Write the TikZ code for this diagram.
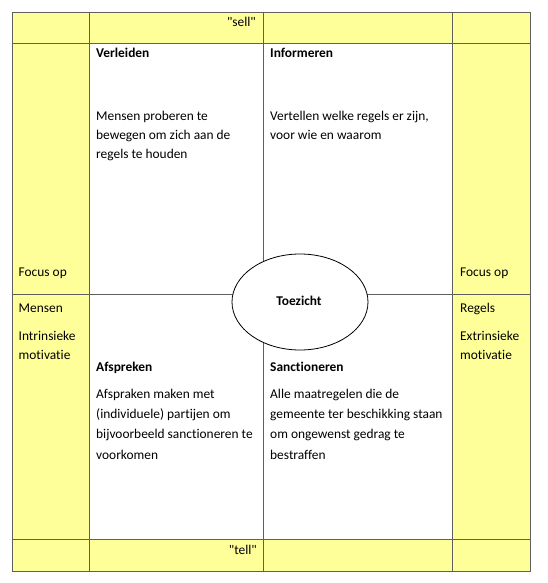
\documentclass[tikz,border=0pt]{standalone}
\usepackage{fontspec}
\setmainfont{Carlito}[Ligatures={TeXOff,NoCommon}]
\usetikzlibrary{shapes.geometric}
\definecolor{cellyellow}{HTML}{FFFF99}
\definecolor{gridline}{HTML}{5F5F5F}
\newcommand{\lines}[1]{\begin{tabular}[t]{@{}l@{}}#1\end{tabular}}
\begin{document}
\begin{tikzpicture}[x=1pt,y=-1pt,
  grid/.style={draw=gridline,line width=0.8pt},
  txt/.style={anchor=base west,inner sep=0pt,font=\fontsize{13.4}{18.8}\selectfont},
  wide/.style={anchor=base west,inner sep=0pt,font=\fontsize{13.4}{20.2}\selectfont},
  ttl/.style={txt,font=\fontsize{13.4}{18.8}\selectfont\bfseries},
  oval/.style={draw=black,line width=0.8pt,fill=white,ellipse,minimum width=136pt,minimum height=96pt,inner sep=0pt}]
\useasboundingbox (0,0) rectangle (548,583);
% yellow frame cells
\fill[cellyellow] (12,12.3) rectangle (530,43.5);
\fill[cellyellow] (12,539.5) rectangle (530,571.3);
\fill[cellyellow] (12,43.5) rectangle (89.3,539.5);
\fill[cellyellow] (452.3,43.5) rectangle (530,539.5);
% grid
\draw[grid] (12,12.3) rectangle (530,571.3);
\draw[grid] (12,43.5) -- (530,43.5);
\draw[grid] (12,539.5) -- (530,539.5);
\draw[grid] (12,294.5) -- (530,294.5);
\draw[grid] (89.3,12.3) -- (89.3,571.3);
\draw[grid] (263.3,12.3) -- (263.3,571.3);
\draw[grid] (452.3,12.3) -- (452.3,571.3);
% centre ellipse
\node[oval] (toezicht) at (300,302) {};
\node[inner sep=0pt,font=\fontsize{13.4}{18.8}\selectfont\bfseries] (toezichtlbl) at (299,301) {Toezicht};
% top and bottom rows
\node[txt,anchor=base east] (sell) at (256,26.5) {"sell"};
\node[txt,anchor=base east] (tell) at (257,554) {"tell"};
% quadrants
\node[ttl] (verleiden) at (96,57.5) {Verleiden};
\node[txt] (verleidenbody) at (96,120.5) {\lines{Mensen proberen te\\bewegen om zich aan de\\regels te houden}};
\node[ttl] (informeren) at (270,57.5) {Informeren};
\node[txt] (informerenbody) at (270,120.5) {\lines{Vertellen welke regels er zijn,\\voor wie en waarom}};
\node[ttl] (afspreken) at (96,371.5) {Afspreken};
\node[wide] (afsprekenbody) at (96,398.5) {\lines{Afspraken maken met\\(individuele) partijen om\\bijvoorbeeld sanctioneren te\\voorkomen}};
\node[ttl] (sanctioneren) at (270,371.5) {Sanctioneren};
\node[wide] (sanctionerenbody) at (270,398.5) {\lines{Alle maatregelen die de\\gemeente ter beschikking staan\\om ongewenst gedrag te\\bestraffen}};
% side columns
\node[txt] (focusl) at (18.5,276) {Focus op};
\node[txt] (mensen) at (18.5,312.5) {Mensen};
\node[txt] (intrinsiek) at (18.5,340.5) {\lines{Intrinsieke\\motivatie}};
\node[txt] (focusr) at (460,276) {Focus op};
\node[txt] (regels) at (460,312.5) {Regels};
\node[txt] (extrinsiek) at (460,340.5) {\lines{Extrinsieke\\motivatie}};
\end{tikzpicture}
\end{document}
